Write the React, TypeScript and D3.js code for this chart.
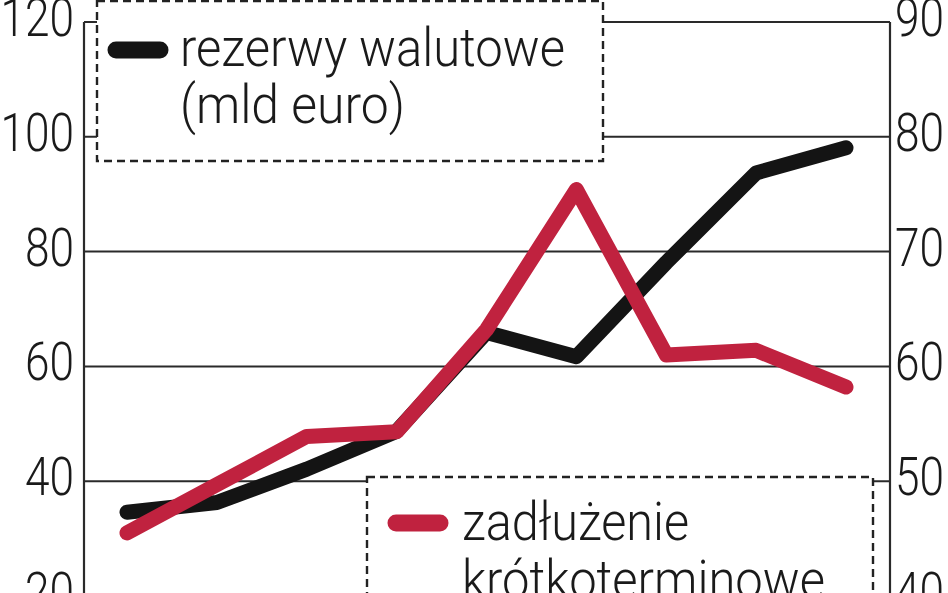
import React from "react";
import * as d3 from "d3";

const periods = ["1", "2", "3", "4", "5", "6", "7", "8", "9"];
const reserves = [34.6, 36.3, 42.1, 48.7, 65.9, 61.7, 78.1, 93.7, 98.1];
const shortTermDebt = [45.5, 49.7, 53.9, 54.3, 63.2, 75.4, 61.0, 61.4, 58.2];
const leftTicks = [20, 40, 60, 80, 100, 120];
const rightTicks = [40, 50, 60, 70, 80, 90];
const legendReserves = ["rezerwy walutowe", "(mld euro)"];
const legendDebt = ["zadłużenie", "krótkoterminowe"];

const W = 948;
const H = 593;
const RED = "#c0223f";
const BLACK = "#141414";
const TXT = "#1a1a1a";
const FONT = "Roboto, 'DejaVu Sans', sans-serif";

export default function App() {
  const x = d3.scalePoint<string>().domain(periods).range([127, 846]);
  const yL = d3.scaleLinear().domain([20, 120]).range([596, 22]);
  const yR = d3.scaleLinear().domain([40, 90]).range([596, 22]);
  const axL = 84;
  const axR = 890;

  const lineL = d3
    .line<number>()
    .x((_, i) => x(periods[i]) as number)
    .y((d) => yL(d));
  const lineR = d3
    .line<number>()
    .x((_, i) => x(periods[i]) as number)
    .y((d) => yR(d));

  const digitW = 24.5;

  return (
    <svg
      width={W}
      height={H}
      style={{ position: "absolute", left: 0, top: 0, background: "#fff" }}
      fontFamily={FONT}
      fontWeight={300}
    >
      <rect x={0} y={0} width={W} height={H} fill="#fff" />
      {/* gridlines */}
      {leftTicks.map((t) => (
        <line
          key={"g" + t}
          x1={axL}
          x2={axR}
          y1={yL(t)}
          y2={yL(t)}
          stroke="#2a2a2a"
          strokeWidth={2}
        />
      ))}
      {/* axes */}
      <line x1={axL} x2={axL} y1={yL(120)} y2={H} stroke="#2a2a2a" strokeWidth={2.2} />
      <line x1={axR} x2={axR} y1={yR(90)} y2={H} stroke="#2a2a2a" strokeWidth={2.2} />
      {/* left labels */}
      {leftTicks.map((t) => {
        const s = String(t);
        return (
          <text
            key={"l" + t}
            x={74}
            y={yL(t) + 14}
            textAnchor="end"
            fontSize={54}
            fill={TXT}
            textLength={s.length * digitW}
            lengthAdjust="spacingAndGlyphs"
          >
            {s}
          </text>
        );
      })}
      {/* right labels */}
      {rightTicks.map((t) => {
        const s = String(t);
        return (
          <text
            key={"r" + t}
            x={895}
            y={yR(t) + 14}
            textAnchor="start"
            fontSize={54}
            fill={TXT}
            textLength={s.length * digitW}
            lengthAdjust="spacingAndGlyphs"
          >
            {s}
          </text>
        );
      })}
      {/* legend box 1 */}
      <rect
        x={97}
        y={1}
        width={506}
        height={160}
        fill="#fff"
        stroke="#222"
        strokeWidth={2.4}
        strokeDasharray="8 5"
      />
      <line x1={116} x2={160} y1={50} y2={50} stroke={BLACK} strokeWidth={17} strokeLinecap="round" />
      <text x={180} y={66} fontSize={54} fill={TXT} textLength={385} lengthAdjust="spacingAndGlyphs">
        {legendReserves[0]}
      </text>
      <text x={180} y={123} fontSize={54} fill={TXT} textLength={225} lengthAdjust="spacingAndGlyphs">
        {legendReserves[1]}
      </text>
      {/* legend box 2 */}
      <rect
        x={367}
        y={477}
        width={506}
        height={160}
        fill="#fff"
        stroke="#222"
        strokeWidth={2.4}
        strokeDasharray="8 5"
      />
      <line x1={396} x2={440} y1={523} y2={523} stroke={RED} strokeWidth={17} strokeLinecap="round" />
      <text x={462} y={540} fontSize={54} fill={TXT} textLength={227} lengthAdjust="spacingAndGlyphs">
        {legendDebt[0]}
      </text>
      <text x={462} y={598} fontSize={54} fill={TXT} textLength={363} lengthAdjust="spacingAndGlyphs">
        {legendDebt[1]}
      </text>
      {/* series */}
      <path
        d={lineL(reserves) || ""}
        fill="none"
        stroke={BLACK}
        strokeWidth={15}
        strokeLinecap="round"
        strokeLinejoin="round"
      />
      <path
        d={lineR(shortTermDebt) || ""}
        fill="none"
        stroke={RED}
        strokeWidth={15}
        strokeLinecap="round"
        strokeLinejoin="round"
      />
    </svg>
  );
}
